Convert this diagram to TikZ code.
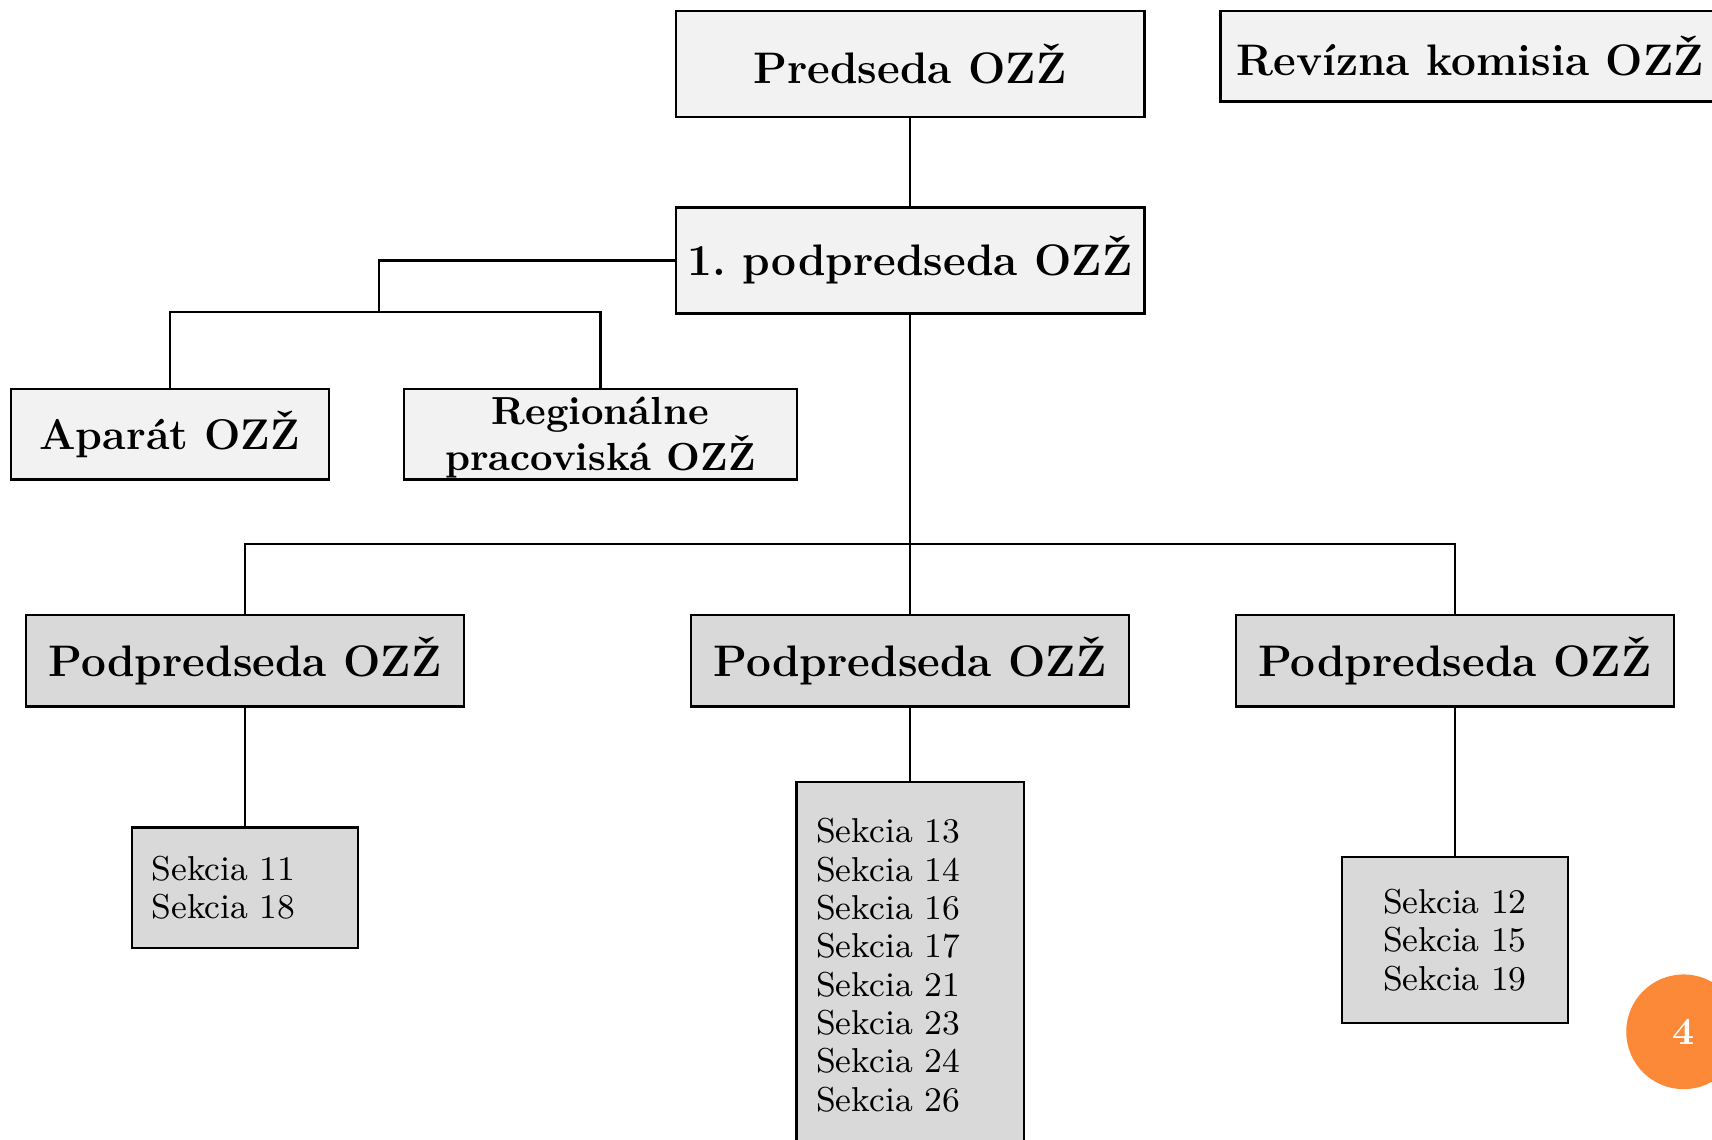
\documentclass[tikz,border=0pt]{standalone}
\usepackage{fontspec}
\frenchspacing
\definecolor{boxlight}{HTML}{F2F2F2}
\definecolor{boxdark}{HTML}{D9D9D9}
\definecolor{pageorange}{RGB}{252,137,56}
\tikzset{
  topbox/.style={draw=black, line width=0.6pt, fill=boxlight, inner sep=0pt,
    font=\fontsize{11.5}{13}\selectfont\bfseries},
  vicebox/.style={draw=black, line width=0.6pt, fill=boxdark, inner sep=0pt,
    font=\fontsize{11.5}{13}\selectfont\bfseries},
  secbox/.style={draw=black, line width=0.6pt, fill=boxdark, inner ysep=0pt, inner xsep=0.18cm,
    text width=1.71cm, font=\fontsize{9}{10}\selectfont},
  link/.style={draw=black, line width=0.6pt},
}
\begin{document}
\begin{tikzpicture}[x=0.01cm,y=-0.01cm]
\useasboundingbox (0,0) rectangle (1568,1044);
% top level
\node[topbox, minimum width=4.29cm, minimum height=0.97cm] (pred) at (833.5,58.5) {Predseda OZŽ};
\node[topbox, minimum width=4.57cm, minimum height=0.83cm] (rev) at (1346.5,51.5) {Revízna komisia OZŽ};
\node[topbox, minimum width=4.29cm, minimum height=0.97cm] (pod1) at (833.5,238.5) {1. podpredseda OZŽ};
\node[topbox, minimum width=2.91cm, minimum height=0.83cm,
  font=\fontsize{11.2}{13}\selectfont\bfseries] (apar) at (155.5,397.5) {Aparát OZŽ};
\node[topbox, minimum width=3.60cm, minimum height=0.83cm, align=center,
  font=\fontsize{10.2}{11.8}\selectfont\bfseries] (reg) at (550,397.5) {\rule{0pt}{9pt}Regionálne\\pracoviská OZŽ};
% vice chairs
\node[vicebox, minimum width=4.01cm, minimum height=0.84cm] (pp1) at (224.5,605) {Podpredseda OZŽ};
\node[vicebox, minimum width=4.01cm, minimum height=0.84cm] (pp2) at (833.5,605) {Podpredseda OZŽ};
\node[vicebox, minimum width=4.01cm, minimum height=0.84cm] (pp3) at (1332.5,605) {Podpredseda OZŽ};
% sections
\node[secbox, align=left, minimum height=1.10cm] (s1) at (224.5,813) {Sekcia 11\\Sekcia 18};
\node[secbox, align=left, text width=1.72cm, minimum height=3.36cm] (s2) at (833.5,884)
  {Sekcia 13\\Sekcia 14\\Sekcia 16\\Sekcia 17\\Sekcia 21\\Sekcia 23\\Sekcia 24\\Sekcia 26};
\node[secbox, align=center, minimum height=1.52cm] (s3) at (1332.5,861) {Sekcia 12\\Sekcia 15\\Sekcia 19};
% connectors
\coordinate (j1) at (347,286);
\coordinate (j2) at (833.5,498);
\draw[link] (pred.south) -- (pod1.north);
\draw[link] (pod1.west) -| (j1);
\draw[link] (apar.north) |- (j1);
\draw[link] (reg.north) |- (j1);
\draw[link] (pod1.south) -- (pp2.north);
\draw[link] (pp1.north) |- (j2);
\draw[link] (pp3.north) |- (j2);
\draw[link] (pp1.south) -- (s1.north);
\draw[link] (pp2.south) -- (s2.north);
\draw[link] (pp3.south) -- (s3.north);
% page number
\node[circle, fill=pageorange, minimum size=1.05cm, inner sep=0pt, text=white,
  font=\fontsize{10}{12}\selectfont\bfseries] (pg) at (1542,945) {4};
\end{tikzpicture}
\end{document}
